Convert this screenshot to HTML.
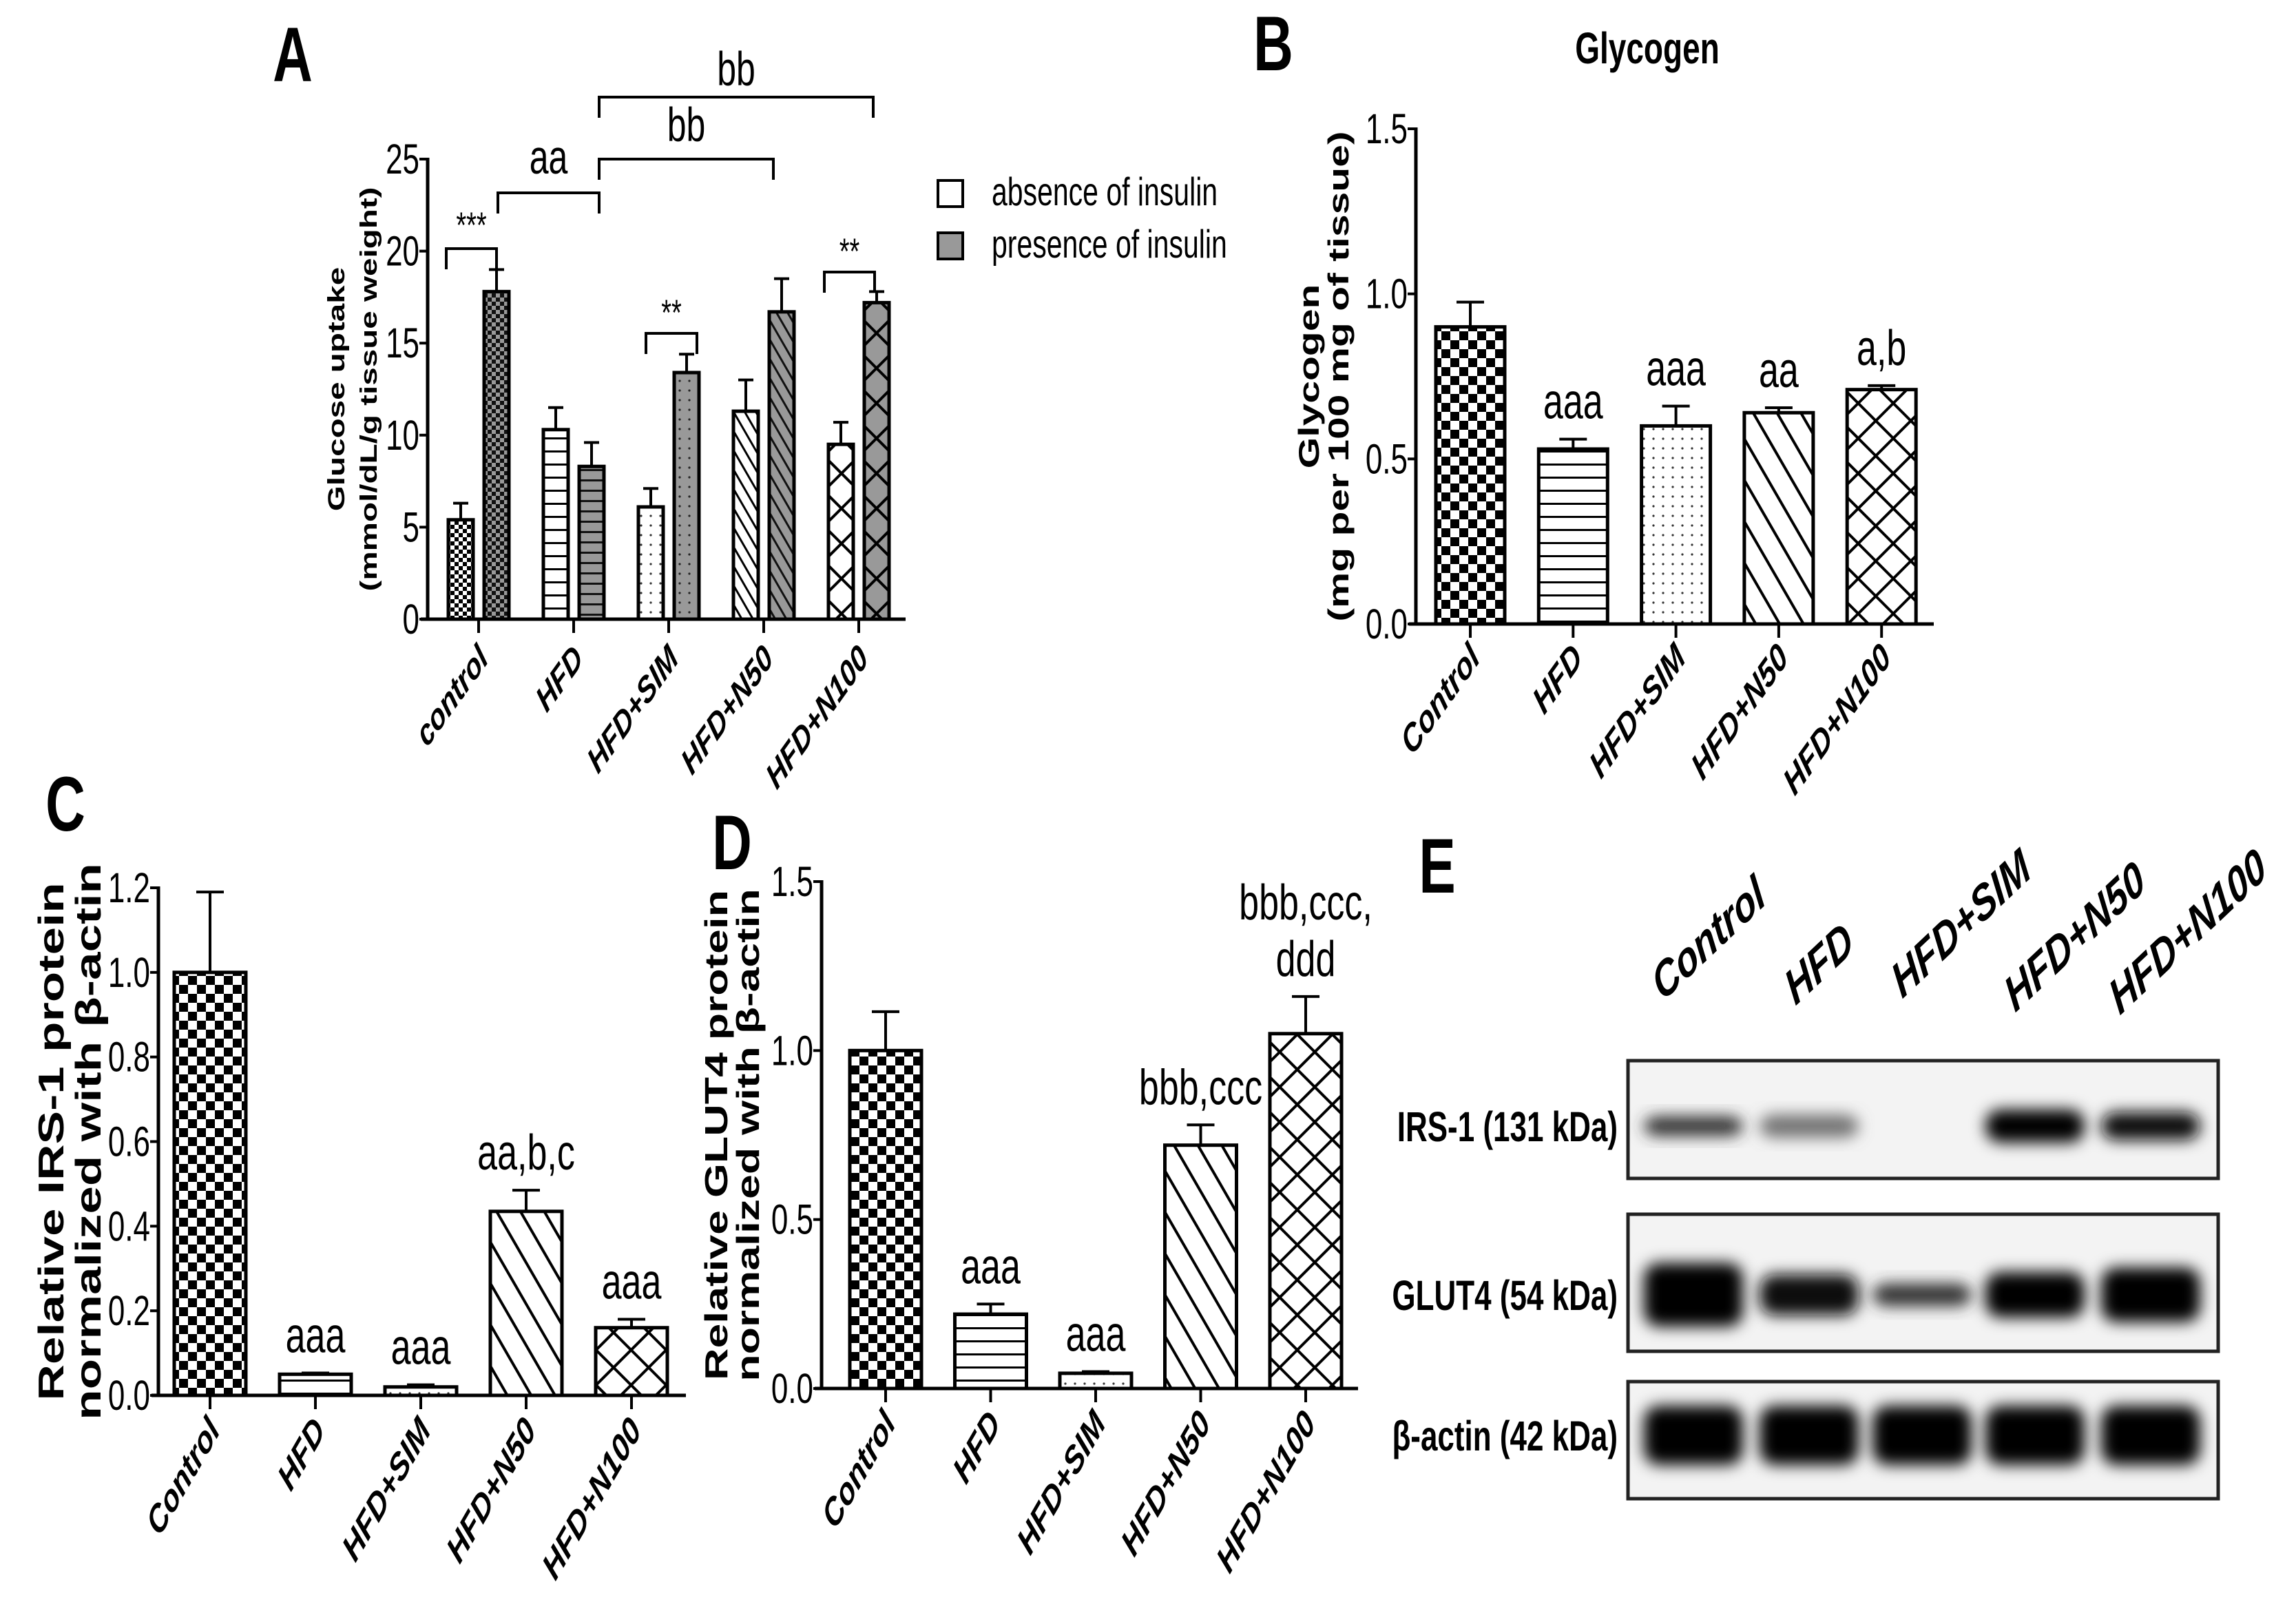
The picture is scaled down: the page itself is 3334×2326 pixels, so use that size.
<!DOCTYPE html>
<html><head><meta charset="utf-8"><style>
html,body{margin:0;padding:0;background:#fff}
svg{display:block}
text{font-family:"Liberation Sans Narrow","Liberation Sans",Arial,sans-serif}
</style></head><body>
<svg id="fig" width="3334" height="2326" viewBox="0 0 3334 2326" xmlns="http://www.w3.org/2000/svg">
<defs>
<pattern id="pChk" patternUnits="userSpaceOnUse" width="26" height="26"><rect width="26" height="26" fill="#fff"/><rect width="13" height="13" fill="#000"/><rect x="13" y="13" width="13" height="13" fill="#000"/></pattern>
<pattern id="pChkS" patternUnits="userSpaceOnUse" width="12" height="12"><rect width="12" height="12" fill="#fff"/><rect width="6" height="6" fill="#000"/><rect x="6" y="6" width="6" height="6" fill="#000"/></pattern>
<pattern id="pChkG" patternUnits="userSpaceOnUse" width="12" height="12"><rect width="12" height="12" fill="#999"/><rect width="6" height="6" fill="#111"/><rect x="6" y="6" width="6" height="6" fill="#111"/></pattern>
<pattern id="pH" patternUnits="userSpaceOnUse" width="20" height="19"><rect width="20" height="19" fill="#fff"/><rect y="8" width="20" height="3" fill="#000"/></pattern>
<pattern id="pHG" patternUnits="userSpaceOnUse" width="20" height="15"><rect width="20" height="15" fill="#999"/><rect y="6" width="20" height="3" fill="#111"/></pattern>
<pattern id="pD" patternUnits="userSpaceOnUse" width="14" height="14"><rect width="14" height="14" fill="#fff"/><circle cx="7" cy="7" r="1.6" fill="#333"/></pattern>
<pattern id="pDG" patternUnits="userSpaceOnUse" width="14" height="14"><rect width="14" height="14" fill="#999"/><circle cx="7" cy="7" r="1.6" fill="#222"/></pattern>
<pattern id="pDiag" patternUnits="userSpaceOnUse" width="30" height="30" patternTransform="rotate(-30)"><rect width="30" height="30" fill="#fff"/><rect x="13" width="4" height="30" fill="#000"/></pattern>
<pattern id="pDiagS" patternUnits="userSpaceOnUse" width="14" height="14" patternTransform="rotate(-30)"><rect width="14" height="14" fill="#fff"/><rect x="6" width="3" height="14" fill="#000"/></pattern>
<pattern id="pDiagG" patternUnits="userSpaceOnUse" width="14" height="14" patternTransform="rotate(-30)"><rect width="14" height="14" fill="#999"/><rect x="6" width="3" height="14" fill="#111"/></pattern>
<pattern id="pX" patternUnits="userSpaceOnUse" width="36" height="36" patternTransform="rotate(45)"><rect width="36" height="36" fill="#fff"/><rect x="16" width="4" height="36" fill="#000"/><rect y="16" width="36" height="4" fill="#000"/></pattern>
<pattern id="pXG" patternUnits="userSpaceOnUse" width="36" height="36" patternTransform="rotate(45)"><rect width="36" height="36" fill="#999"/><rect x="16" width="4" height="36" fill="#000"/><rect y="16" width="36" height="4" fill="#000"/></pattern>
<filter id="blur" x="-30%" y="-60%" width="160%" height="220%"><feGaussianBlur stdDeviation="11"/></filter>
</defs>
</svg>
<script>
// ---- Panel A data ----
const catsA = ["control","HFD","HFD+SIM","HFD+N50","HFD+N100"];
const absA = [5.4, 10.3, 6.1, 11.3, 9.5];
const absErrA = [0.9, 1.2, 1.0, 1.7, 1.2];
const presA = [17.8, 8.3, 13.4, 16.7, 17.2];
const presErrA = [1.2, 1.3, 1.0, 1.8, 0.6];
const ticksA = [0, 5, 10, 15, 20, 25];
const tickLabelsA = ["0","5","10","15","20","25"];
// ---- Panel B data ----
const catsB = ["Control","HFD","HFD+SIM","HFD+N50","HFD+N100"];
const glyB = [0.90, 0.53, 0.60, 0.64, 0.71];
const errB = [0.075, 0.03, 0.06, 0.015, 0.012];
const annB = ["", "aaa", "aaa", "aa", "a,b"];
const ticksB = [0, 0.5, 1.0, 1.5];
const tickLabelsB = ["0.0","0.5","1.0","1.5"];
// ---- Panel C data ----
const catsC = ["Control","HFD","HFD+SIM","HFD+N50","HFD+N100"];
const irsC = [1.0, 0.05, 0.02, 0.435, 0.16];
const errC = [0.19, 0.003, 0.005, 0.05, 0.02];
const annC = ["", "aaa", "aaa", "aa,b,c", "aaa"];
const ticksC = [0, 0.2, 0.4, 0.6, 0.8, 1.0, 1.2];
const tickLabelsC = ["0.0","0.2","0.4","0.6","0.8","1.0","1.2"];
// ---- Panel D data ----
const catsD = ["Control","HFD","HFD+SIM","HFD+N50","HFD+N100"];
const glutD = [1.0, 0.22, 0.045, 0.72, 1.05];
const errD = [0.115, 0.03, 0.005, 0.06, 0.11];
const annD = ["", "aaa", "aaa", "bbb,ccc", "bbb,ccc,|ddd"];
const ticksD = [0, 0.5, 1.0, 1.5];
const tickLabelsD = ["0.0","0.5","1.0","1.5"];
// ---- Panel E blot data (band intensity 0-1, band thickness relative) ----
const lanesE = ["Control","HFD","HFD+SIM","HFD+N50","HFD+N100"];
const irsBand = [0.8, 0.55, 0.0, 1.0, 0.95];
const irsThick = [0.6, 0.7, 0.0, 1.0, 0.85];
const glutBand = [1.0, 0.95, 0.8, 1.0, 1.0];
const glutThick = [1.4, 0.9, 0.5, 1.0, 1.2];
const actinBand = [1.0, 1.0, 1.0, 1.0, 1.0];
const actinThick = [1.0, 1.0, 1.0, 1.0, 1.0];

const NS = "http://www.w3.org/2000/svg";
const SY = 1.4; // vertical stretch of text (reference is vertically stretched)
const svg = document.getElementById("fig");
function el(tag, attrs, parent, txt) {
  const e = document.createElementNS(NS, tag);
  for (const k in attrs) e.setAttribute(k, attrs[k]);
  if (txt !== undefined) e.textContent = txt;
  (parent || svg).appendChild(e);
  return e;
}
function grp(name) {
  const g = document.createElementNS(NS, "g");
  
  
  svg.appendChild(g);
  return g;
}
function label(g, x, y, s, size, opts) {
  opts = opts || {};
  const rot = opts.rot || 0;
  const t = el("text", {x: 0, y: 0, "font-size": size, "text-anchor": opts.anchor || "middle",
    "font-weight": opts.bold ? "bold" : "normal", "font-style": opts.italic ? "italic" : "normal",
    fill: "#000", transform: `translate(${x},${y}) scale(1,${opts.sy || SY}) rotate(${rot})`}, g, s);
  return t;
}

function axes(g, cfg, ticks, tlabels, cats, rot) {
  const yS = v => cfg.y0 - v / cfg.max * (cfg.y0 - cfg.ytop);
  const ya = el("line", {x1: cfg.ax, y1: cfg.ytop - 2, x2: cfg.ax, y2: cfg.y0 + 2, stroke: "#000", "stroke-width": 5}, g);
  
  
  const xa = el("line", {x1: cfg.ax - 10, y1: cfg.y0, x2: cfg.xEnd, y2: cfg.y0, stroke: "#000", "stroke-width": 5}, g);
  
  
  ticks.forEach((v, i) => {
    const y = yS(v);
    el("line", {x1: cfg.ax - 12, y1: y, x2: cfg.ax, y2: y, stroke: "#000", "stroke-width": 4}, g);
    const t = label(g, cfg.ax - 12, y + 21, tlabels[i], 44, {anchor: "end"});
    
    
  });
  cats.forEach((c, i) => {
    const x = cfg.c0 + i * cfg.dx;
    el("line", {x1: x, y1: cfg.y0, x2: x, y2: cfg.y0 + 20, stroke: "#000", "stroke-width": 4}, g);
    const t = label(g, x + 16, cfg.y0 + (cfg.catDy || 52), c, cfg.catSize || 40, {anchor: "end", bold: true, italic: true, rot: rot});
    
    
  });
  return yS;
}
function bar(g, x, w, yS, v, err, fill, capW) {
  const yt = yS(v), y0 = yS(0), ye = yS(v + err);
  el("line", {x1: x, y1: yt, x2: x, y2: ye, stroke: "#000", "stroke-width": 4}, g);
  el("line", {x1: x - capW / 2, y1: ye, x2: x + capW / 2, y2: ye, stroke: "#000", "stroke-width": 4}, g);
  const r = el("rect", {x: x - w / 2, y: yt, width: w, height: Math.max(y0 - yt, 1), fill: fill, stroke: "#000", "stroke-width": 5}, g);
  
  
  return ye;
}
function ylabel(g, x1, x2, yc, l1, l2, size) {
  const a = label(g, x1, yc, l1, size, {bold: true, rot: -90});
  
  
  const b = label(g, x2, yc, l2, size, {bold: true, rot: -90});
  
  
}
const fills = ["url(#pChk)", "url(#pH)", "url(#pD)", "url(#pDiag)", "url(#pX)"];

// ===== Panel A =====
(function () {
  const g = grp("panel-a-glucose-uptake");
  const cfg = {ax: 621, y0: 899, ytop: 231, max: 25, xEnd: 1315, c0: 695, dx: 138, catDy: 60, catSize: 38};
  const yS = axes(g, cfg, ticksA, tickLabelsA, catsA, -45);
  const fA = ["url(#pChkS)", "url(#pH)", "url(#pD)", "url(#pDiagS)", "url(#pX)"];
  const fP = ["url(#pChkG)", "url(#pHG)", "url(#pDG)", "url(#pDiagG)", "url(#pXG)"];
  catsA.forEach((c, i) => {
    const cx = cfg.c0 + i * cfg.dx;
    bar(g, cx - 26, 36, yS, absA[i], absErrA[i], fA[i], 22);
    bar(g, cx + 26, 36, yS, presA[i], presErrA[i], fP[i], 22);
  });
  ylabel(g, 500, 547, 565, "Glucose uptake", "(mmol/dL/g tissue weight)", 34);
  const L = label(g, 425, 118, "A", 80, {bold: true});
  
  
  const br = [[648, 721, 361, 30, "***", 345], [723, 870, 280, 30, "aa", 252], [870, 1123, 231, 30, "bb", 205],
              [870, 1268, 141, 30, "bb", 124], [938, 1012, 484, 30, "**", 472], [1197, 1270, 395, 30, "**", 383]];
  br.forEach(b => {
    el("path", {d: `M${b[0]},${b[2] + b[3]} V${b[2]} H${b[1]} V${b[2] + b[3]}`, fill: "none", stroke: "#000", "stroke-width": 4}, g);
    const t = label(g, (b[0] + b[1]) / 2, b[5], b[4], b[4].indexOf("*") >= 0 ? 38 : 50, {});
    
    
  });
  const lg = el("g", {}, g);
  
  
  el("rect", {x: 1362, y: 262, width: 36, height: 38, fill: "#fff", stroke: "#000", "stroke-width": 4}, lg);
  el("rect", {x: 1362, y: 338, width: 36, height: 38, fill: "#999", stroke: "#000", "stroke-width": 4}, lg);
  const e1 = label(lg, 1440, 298, "absence of insulin", 41, {anchor: "start"});
  
  
  const e2 = label(lg, 1440, 374, "presence of insulin", 41, {anchor: "start"});
  
  
})();

function simplePanel(name, cfg, ticks, tl, cats, vals, errs, anns, ylab, letter) {
  const g = grp(name);
  const yS = axes(g, cfg, ticks, tl, cats, cfg.rot);
  cats.forEach((c, i) => {
    const cx = cfg.c0 + i * cfg.dx;
    const ye = bar(g, cx, cfg.w, yS, vals[i], errs[i], fills[i], 40);
    if (anns[i]) {
      const parts = anns[i].split("|");
      parts.forEach((p, k) => {
        const t = label(g, cx, ye - 30 - (parts.length - 1 - k) * 82, p, 52, {});
        
        
      });
    }
  });
  ylabel(g, ylab[0], ylab[1], (cfg.y0 + cfg.ytop) / 2, ylab[2], ylab[3], ylab[4]);
  const L = label(g, letter[0], letter[1], letter[2], 80, {bold: true});
  
  
  return g;
}
// ===== Panel B =====
const gB = simplePanel("panel-b-glycogen", {ax: 2056, y0: 906, ytop: 187, max: 1.5, xEnd: 2808, c0: 2135, dx: 149.3, w: 100, rot: -45},
  ticksB, tickLabelsB, catsB, glyB, errB, annB, [1915, 1958, "Glycogen", "(mg per 100 mg of tissue)", 42], [1849, 102, "B"]);
const tB = label(gB, 2392, 92, "Glycogen", 46, {bold: true});


// ===== Panel C =====
simplePanel("panel-c-irs1", {ax: 230, y0: 2026, ytop: 1289, max: 1.2, xEnd: 996, c0: 305, dx: 153, w: 104, rot: -51},
  ticksC, tickLabelsC, catsC, irsC, errC, annC, [92, 146, "Relative IRS-1 protein", "normalized with β-actin", 52], [95, 1206, "C"]);
// ===== Panel D =====
simplePanel("panel-d-glut4", {ax: 1193, y0: 2016, ytop: 1280, max: 1.5, xEnd: 1972, c0: 1286, dx: 152.5, w: 104, rot: -51},
  ticksD, tickLabelsD, catsD, glutD, errD, annD, [1056, 1102, "Relative GLUT4 protein", "normalized with β-actin", 46], [1063, 1262, "D"]);

// ===== Panel E (western blot) =====
(function () {
  const g = grp("panel-e-western-blot");
  const L = label(g, 2087, 1296, "E", 80, {bold: true});
  
  
  const laneX = [2459, 2627, 2791, 2955, 3123];
  const labelPos = [[2414, 1455], [2607, 1461], [2762, 1451], [2926, 1471], [3078, 1475]];
  lanesE.forEach((n, i) => {
    const t = label(g, labelPos[i][0], labelPos[i][1], n, 52, {anchor: "start", bold: true, italic: true, rot: -34});
    
    
  });
  const rows = [
    {name: "IRS-1 (131 kDa)", y1: 1540, y2: 1711, yc: 1635, band: irsBand, thick: irsThick, h: 48},
    {name: "GLUT4 (54 kDa)", y1: 1763, y2: 1962, yc: 1880, band: glutBand, thick: glutThick, h: 66},
    {name: "β-actin (42 kDa)", y1: 2006, y2: 2176, yc: 2084, band: actinBand, thick: actinThick, h: 86}
  ];
  rows.forEach(r => {
    const rg = el("g", {}, g);
    
    
    el("rect", {x: 2364, y: r.y1, width: 857, height: r.y2 - r.y1, fill: "#f3f3f3", stroke: "#222", "stroke-width": 5}, rg);
    r.band.forEach((v, i) => {
      if (v <= 0) return;
      const c = Math.round(255 * (1 - v));
      const b = el("rect", {x: laneX[i] - 72, y: r.yc - r.h * r.thick[i] / 2, width: 144, height: r.h * r.thick[i],
        rx: 22, fill: `rgb(${c},${c},${c})`, filter: "url(#blur)"}, rg);
      
      
    });
    const t = label(rg, 2349, r.yc + 22, r.name, 44, {anchor: "end", bold: true});
    
    
  });
})();
</script>
</body></html>
